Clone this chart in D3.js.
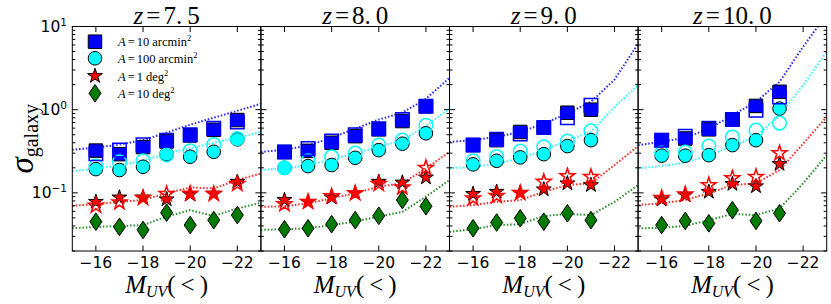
<!DOCTYPE html>
<html><head><meta charset="utf-8">
<script src="https://cdn.jsdelivr.net/npm/d3@7"></script>
<style>body{margin:0;background:#fff} svg{display:block}</style>
</head><body>
<svg id="c" width="831" height="304"></svg>
<script>
// ---------------- data ----------------
const redshiftLabels = ["7.5", "8.0", "9.0", "10.0"];
const magBins = [
  [-16, -17, -18, -19, -20, -21, -22],
  [-16, -17, -18, -19, -20, -21, -22],
  [-16, -17, -18, -19, -20, -21],
  [-16, -17, -18, -19, -20, -21]
];
const modelMags = [-15, -16, -17, -18, -19, -20, -21, -22, -23];

// model curves (dotted)
const model10arcmin = [
  [0.33, 0.35, 0.38, 0.43, 0.53, 0.66, 0.80, 0.97, 1.18],
  [0.31, 0.33, 0.37, 0.46, 0.59, 0.76, 0.92, 1.35, 2.4],
  [0.41, 0.43, 0.47, 0.54, 0.68, 0.90, 1.24, 2.3, 6.2],
  [0.375, 0.41, 0.46, 0.59, 0.86, 1.24, 2.16, 5.7, 14]
];
const model100arcmin = [
  [0.183, 0.193, 0.216, 0.243, 0.30, 0.342, 0.40, 0.46, 0.54],
  [0.188, 0.197, 0.216, 0.252, 0.30, 0.358, 0.43, 0.64, 1.03],
  [0.197, 0.205, 0.226, 0.26, 0.326, 0.43, 0.54, 1.08, 1.97],
  [0.197, 0.21, 0.23, 0.284, 0.365, 0.48, 0.86, 1.97, 5.0]
];
const model1deg = [
  [0.070, 0.073, 0.078, 0.082, 0.099, 0.116, 0.113, 0.1425, 0.171],
  [0.068, 0.069, 0.075, 0.086, 0.099, 0.119, 0.13, 0.197, 0.31],
  [0.068, 0.0714, 0.078, 0.082, 0.103, 0.124, 0.13, 0.216, 0.365],
  [0.0714, 0.075, 0.082, 0.099, 0.124, 0.13, 0.188, 0.39, 0.82]
];
const model10deg = [
  [0.0375, 0.039, 0.040, 0.041, 0.0517, 0.062, 0.0527, 0.065, 0.076],
  [0.0358, 0.0365, 0.0375, 0.041, 0.045, 0.052, 0.059, 0.09, 0.1425],
  [0.034, 0.0365, 0.041, 0.042, 0.0527, 0.0557, 0.054, 0.078, 0.124],
  [0.0375, 0.038, 0.040, 0.047, 0.0557, 0.054, 0.065, 0.13, 0.284]
];

// measured points: filled and open markers
const squareFilled = [
  [0.322, 0.292, 0.355, 0.415, 0.49, 0.573, 0.75],
  [0.31, 0.32, 0.40, 0.48, 0.58, 0.73, 1.10],
  [0.375, 0.43, 0.54, 0.61, 0.92, 1.0],
  [0.43, 0.45, 0.58, 0.76, 1.11, 1.64]
];
const squareOpen = [
  [0.295, 0.327, 0.378, 0.43, 0.50, 0.60, 0.71],
  [0.31, 0.342, 0.42, 0.50, 0.59, 0.76, 1.10],
  [0.375, 0.44, 0.51, 0.61, 0.80, 1.13],
  [0.43, 0.48, 0.60, 0.76, 0.986, 1.42]
];
const circleFilled = [
  [0.193, 0.188, 0.206, 0.292, 0.272, 0.312, 0.44],
  [0.20, 0.21, 0.216, 0.264, 0.326, 0.39, 0.52],
  [0.22, 0.243, 0.267, 0.292, 0.365, 0.43],
  [0.28, 0.28, 0.284, 0.375, 0.43, 1.03]
];
const circleOpen = [
  [0.21, 0.236, 0.243, 0.285, 0.32, 0.38, 0.45],
  [0.20, 0.243, 0.272, 0.30, 0.375, 0.43, 0.65],
  [0.243, 0.272, 0.318, 0.358, 0.42, 0.557],
  [0.30, 0.31, 0.365, 0.47, 0.567, 0.69]
];
const starFilled = [
  [0.078, 0.088, 0.088, 0.0835, 0.096, 0.098, 0.136],
  [0.082, 0.078, 0.088, 0.099, 0.136, 0.133, 0.153],
  [0.097, 0.103, 0.10, 0.11, 0.13, 0.124],
  [0.0835, 0.094, 0.103, 0.128, 0.12, 0.222]
];
const starOpen = [
  [0.070, 0.077, 0.087, 0.097, 0.098, 0.097, 0.128],
  [0.073, 0.078, 0.091, 0.099, 0.128, 0.116, 0.20],
  [0.086, 0.092, 0.10, 0.136, 0.159, 0.156],
  [0.087, 0.096, 0.124, 0.15, 0.156, 0.30]
];
const diamondFilled = [
  [0.045, 0.039, 0.0358, 0.0578, 0.041, 0.047, 0.054],
  [0.0365, 0.0375, 0.042, 0.047, 0.053, 0.082, 0.069],
  [0.0375, 0.044, 0.0495, 0.045, 0.0568, 0.047],
  [0.041, 0.046, 0.043, 0.062, 0.046, 0.0568]
];

const legendLabels = [
  {A: "10", unit: "arcmin"},
  {A: "100", unit: "arcmin"},
  {A: "1", unit: "deg"},
  {A: "10", unit: "deg"}
];
const xTicks = [-16, -18, -20, -22];
const yMajor = [0.1, 1, 10];
const yMajorExp = ["-1", "0", "1"];

// ---------------- drawing ----------------
(function () {
const svg = d3.select("#c");
const pLeft = 72.3, pTop = 26.5, pBottom = 251, pw = 188.6;
const serif = "'Liberation Serif', 'DejaVu Serif', serif";
const sans = "'DejaVu Sans', sans-serif";

const y = d3.scaleLog().domain([0.02, 10]).range([pBottom, pTop]);
const yMinor = [];
[0.01, 0.1, 1].forEach(d => { for (let k = 2; k <= 9; k++) { const v = d * k; if (v >= 0.0199 && v <= 10) yMinor.push(v); } });

const colors = {blue: "#0000ff", cyan: "#00ffff", red: "#ff0000", green: "#007a00"};

const sqSym = d3.symbol().type(d3.symbolSquare).size(13.5 * 13.5)();
const ciSym = d3.symbol().type(d3.symbolCircle).size(Math.PI * 6.8 * 6.8)();
const stSym = d3.symbol().type(d3.symbolStar).size(7.8 * 7.8 / 0.8908130915292852)();
const diamondPath = (() => { const w = 6, h = 8.8; return `M0,${-h}L${w},0L0,${h}L${-w},0Z`; })();

const modelSets = [
  {vals: model10arcmin, color: colors.blue},
  {vals: model100arcmin, color: colors.cyan},
  {vals: model1deg, color: colors.red},
  {vals: model10deg, color: colors.green}
];

const defs = svg.append("defs");

redshiftLabels.forEach((zl, i) => {
  const x0 = pLeft + i * pw;
  const x = d3.scaleLinear().domain([-15, -23]).range([x0, x0 + pw]);
  defs.append("clipPath").attr("id", "clip" + i)
    .append("rect").attr("x", x0).attr("y", pTop).attr("width", pw).attr("height", pBottom - pTop);
  const g = svg.append("g");
  const plot = g.append("g").attr("clip-path", `url(#clip${i})`);

  const line = d3.line().x((d, j) => x(modelMags[j])).y(d => y(d));
  modelSets.forEach(s => {
    plot.append("path").datum(s.vals[i]).attr("d", line)
      .attr("fill", "none").attr("stroke", s.color).attr("stroke-width", 2)
      .attr("stroke-dasharray", "1.5,1.9").attr("opacity", 0.85);
  });

  const bins = magBins[i];
  const pts = arr => arr[i].map((v, j) => [x(bins[j]), y(v)]);
  const draw = (arr, path, fill, stroke, sw) => {
    plot.selectAll(null).data(pts(arr)).enter().append("path")
      .attr("d", path).attr("transform", d => `translate(${d[0]},${d[1]})`)
      .attr("fill", fill).attr("stroke", stroke).attr("stroke-width", sw);
  };

  draw(diamondFilled, diamondPath, colors.green, "#000", 1);
  draw(starFilled, stSym, colors.red, "#000", 1);
  draw(circleFilled, ciSym, colors.cyan, "#000", 1);
  draw(squareFilled, sqSym, colors.blue, "#000", 1);
  draw(starOpen, stSym, "none", colors.red, 1.5);
  draw(circleOpen, ciSym, "none", colors.cyan, 1.5);
  draw(squareOpen, sqSym, "none", colors.blue, 1.5);

  g.append("rect").attr("x", x0).attr("y", pTop).attr("width", pw).attr("height", pBottom - pTop)
    .attr("fill", "none").attr("stroke", "#000").attr("stroke-width", 1);

  const tk = g.append("g").attr("stroke", "#000").attr("stroke-width", 1);
  xTicks.forEach(t => {
    tk.append("line").attr("x1", x(t)).attr("x2", x(t)).attr("y1", pBottom).attr("y2", pBottom - 5.5);
    tk.append("line").attr("x1", x(t)).attr("x2", x(t)).attr("y1", pTop).attr("y2", pTop + 5.5);
  });
  yMajor.forEach(v => {
    tk.append("line").attr("x1", x0).attr("x2", x0 + 5.5).attr("y1", y(v)).attr("y2", y(v));
    tk.append("line").attr("x1", x0 + pw).attr("x2", x0 + pw - 5.5).attr("y1", y(v)).attr("y2", y(v));
  });
  yMinor.forEach(v => {
    tk.append("line").attr("x1", x0).attr("x2", x0 + 3).attr("y1", y(v)).attr("y2", y(v));
    tk.append("line").attr("x1", x0 + pw).attr("x2", x0 + pw - 3).attr("y1", y(v)).attr("y2", y(v));
  });

  xTicks.forEach(t => {
    g.append("text").attr("x", x(t)).attr("y", 267.5).attr("text-anchor", "middle")
      .attr("font-family", sans).attr("font-size", 15.5).text("\u2212" + Math.abs(t));
  });

  const parts = zl.split(".");
  const tt = g.append("text").attr("x", x0 + pw / 2).attr("y", 24).attr("text-anchor", "middle")
    .attr("font-family", serif).attr("font-size", 25);
  tt.append("tspan").attr("font-style", "italic").text("z");
  tt.append("tspan").attr("dx", 3).text("=");
  tt.append("tspan").attr("dx", 3).text(parts[0] + ".");
  tt.append("tspan").attr("dx", 5).text(parts[1]);

  const xl = g.append("text").attr("x", x0 + pw / 2).attr("y", 293).attr("text-anchor", "middle")
    .attr("font-family", serif).attr("font-size", 25);
  xl.append("tspan").attr("font-style", "italic").text("M");
  xl.append("tspan").attr("font-style", "italic").attr("font-size", 16).attr("dy", 4).text("UV");
  xl.append("tspan").attr("dy", -4).text("(");
  xl.append("tspan").attr("dx", 5).text("<");
  xl.append("tspan").attr("dx", 5).text(")");
});

yMajor.forEach((v, k) => {
  const t = svg.append("text").attr("x", 67).attr("y", y(v) + 5.5).attr("text-anchor", "end")
    .attr("font-family", sans).attr("font-size", 15.5);
  t.append("tspan").text("10");
  t.append("tspan").attr("font-size", 10.5).attr("dy", -6.5).text(yMajorExp[k].replace("-", "\u2212"));
});

const yl = svg.append("text").attr("transform", `translate(33,${(pTop + pBottom) / 2}) rotate(-90)`)
  .attr("text-anchor", "middle").attr("font-family", serif);
yl.append("tspan").attr("font-style", "italic").attr("font-size", 33).text("\u03c3");
yl.append("tspan").attr("font-size", 20).attr("dy", 5).text("galaxy");

const legRows = [41.7, 58.3, 76, 93.3];
const lg = svg.append("g");
const lx = 95;
const legMarks = [[sqSym, colors.blue], [ciSym, colors.cyan], [stSym, colors.red], [diamondPath, colors.green]];
legMarks.forEach((m, k) => {
  lg.append("path").attr("d", m[0]).attr("transform", `translate(${lx},${legRows[k]})`)
    .attr("fill", m[1]).attr("stroke", "#000").attr("stroke-width", 1);
});
legendLabels.forEach((l, k) => {
  const t = lg.append("text").attr("x", 118).attr("y", legRows[k] + 4.5)
    .attr("font-family", serif).attr("font-size", 12.5);
  t.append("tspan").attr("font-style", "italic").text("A");
  t.append("tspan").attr("dx", 2).text("=");
  t.append("tspan").attr("dx", 2).text(l.A);
  t.append("tspan").attr("dx", 3).text(l.unit);
  t.append("tspan").attr("font-size", 8.5).attr("dy", -5).text("2");
});
})();
</script>
</body></html>
